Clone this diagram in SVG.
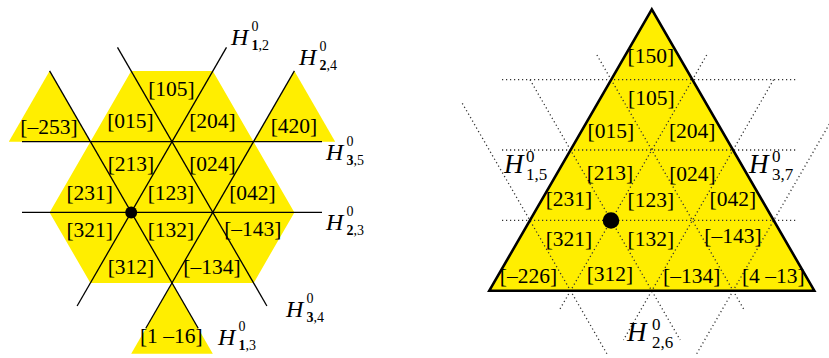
<svg xmlns="http://www.w3.org/2000/svg" width="829" height="358" viewBox="0 0 829 358">
<style>
.fill{fill:#FFEE00;stroke:none}
.ln{stroke:#000;stroke-width:1.3;fill:none}
.dot{stroke:#333;stroke-width:1.3;stroke-dasharray:1.2 2.8;fill:none}
.lbl{font-family:"Liberation Serif",serif;font-size:21.5px;fill:#000;text-anchor:middle}
.hl{font-family:"Liberation Serif",serif;font-style:italic;font-size:24px;fill:#000}
.hs{font-family:"Liberation Serif",serif;font-size:14px;fill:#000}
.hr{font-family:"Liberation Serif",serif;font-style:italic;font-size:27px;fill:#000}
.hrs{font-family:"Liberation Serif",serif;font-size:17px;fill:#000}
</style>
<!-- LEFT DIAGRAM -->
<g id="left-regions">
<polygon class="fill" points="131.2,70.9 212.8,70.9 253.6,141.7 294.4,212.4 253.6,283.1 90.4,283.1 49.6,212.4 90.4,141.7"/>
<polygon class="fill" points="49.6,70.9 8.8,141.7 90.4,141.7"/>
<polygon class="fill" points="294.4,70.9 253.6,141.7 335.2,141.7"/>
<polygon class="fill" points="172,283.1 131.2,353.8 212.8,353.8"/>
</g>
<g id="left-connectors">
<line class="ln" x1="22" y1="141.7" x2="322" y2="141.7"/>
<line class="ln" x1="22" y1="212.4" x2="322" y2="212.4"/>
<line class="ln" x1="226.5" y1="47.3" x2="77.1" y2="306"/>
<line class="ln" x1="117.5" y1="47.3" x2="266.9" y2="306"/>
<line class="ln" x1="294.4" y1="70.9" x2="145.8" y2="328.3"/>
<line class="ln" x1="49.6" y1="70.9" x2="198.2" y2="328.3"/>
</g>
<g id="left-labels">
<text class="lbl" x="171.5" y="95.7">[105]</text>
<text class="lbl" x="130.5" y="128">[015]</text>
<text class="lbl" x="212.5" y="128">[204]</text>
<text class="lbl" x="49" y="134">[–253]</text>
<text class="lbl" x="294" y="133">[420]</text>
<text class="lbl" x="131" y="171">[213]</text>
<text class="lbl" x="212.5" y="171">[024]</text>
<text class="lbl" x="89.7" y="200">[231]</text>
<text class="lbl" x="171" y="200">[123]</text>
<text class="lbl" x="252.5" y="200">[042]</text>
<text class="lbl" x="89.7" y="237">[321]</text>
<text class="lbl" x="171" y="237">[132]</text>
<text class="lbl" x="252.8" y="236">[–143]</text>
<text class="lbl" x="131" y="274">[312]</text>
<text class="lbl" x="212" y="274">[–134]</text>
<text class="lbl" x="171.3" y="343">[1 –16]</text>
</g>
<g id="left-H">
<g id="H12"><text class="hl" x="231" y="45">H</text><text class="hs" x="251.5" y="31">0</text><text class="hs" x="251.5" y="50"><tspan font-weight="bold">1</tspan>,2</text></g>
<g id="H24"><text class="hl" x="299" y="65">H</text><text class="hs" x="319.5" y="51">0</text><text class="hs" x="319.5" y="70"><tspan font-weight="bold">2</tspan>,4</text></g>
<g id="H35"><text class="hl" x="326" y="160">H</text><text class="hs" x="346.5" y="146">0</text><text class="hs" x="346.5" y="165"><tspan font-weight="bold">3</tspan>,5</text></g>
<g id="H23"><text class="hl" x="326" y="230">H</text><text class="hs" x="346.5" y="216">0</text><text class="hs" x="346.5" y="235"><tspan font-weight="bold">2</tspan>,3</text></g>
<g id="H34"><text class="hl" x="286" y="316.7">H</text><text class="hs" x="306.5" y="302.7">0</text><text class="hs" x="306.5" y="321.7"><tspan font-weight="bold">3</tspan>,4</text></g>
<g id="H13"><text class="hl" x="218" y="345">H</text><text class="hs" x="238.5" y="331">0</text><text class="hs" x="238.5" y="350"><tspan font-weight="bold">1</tspan>,3</text></g>
</g>
<circle id="left-dot" cx="131.2" cy="212.4" r="6" fill="#000"/>
<!-- RIGHT DIAGRAM -->
<g id="right-region">
<polygon class="fill" points="651.8,9.3 489.3,290.7 814.3,290.7"/>
</g>
<g id="right-connectors">
<line class="dot" x1="502" y1="79.65" x2="797" y2="79.65"/>
<line class="dot" x1="502" y1="150" x2="797" y2="150"/>
<line class="dot" x1="502" y1="220.35" x2="797" y2="220.35"/>
<line class="dot" x1="596.9" y1="55" x2="744.2" y2="310"/>
<line class="dot" x1="530" y1="79.7" x2="680.2" y2="340"/>
<line class="dot" x1="462.3" y1="103.3" x2="608.2" y2="356"/>
<line class="dot" x1="706.7" y1="55" x2="559.4" y2="310"/>
<line class="dot" x1="773.6" y1="79.7" x2="623.4" y2="340"/>
<line class="dot" x1="841.3" y1="103.3" x2="695.4" y2="356"/>
</g>
<polygon id="right-outline" points="651.8,9.3 489.3,290.7 814.3,290.7" fill="none" stroke="#000" stroke-width="2.6" stroke-linejoin="miter"/>
<g id="right-labels">
<text class="lbl" x="650.8" y="63.3">[150]</text>
<text class="lbl" x="651.3" y="105">[105]</text>
<text class="lbl" x="610.8" y="138.3">[015]</text>
<text class="lbl" x="692.2" y="138.3">[204]</text>
<text class="lbl" x="610" y="180">[213]</text>
<text class="lbl" x="692.5" y="180.5">[024]</text>
<text class="lbl" x="569" y="205.7">[231]</text>
<text class="lbl" x="650.8" y="207">[123]</text>
<text class="lbl" x="732.8" y="205.7">[042]</text>
<text class="lbl" x="569" y="245.7">[321]</text>
<text class="lbl" x="650.8" y="246">[132]</text>
<text class="lbl" x="733" y="242.7">[–143]</text>
<text class="lbl" x="528.5" y="283.3">[–226]</text>
<text class="lbl" x="610" y="280.7">[312]</text>
<text class="lbl" x="691.7" y="283.3">[–134]</text>
<text class="lbl" x="773.3" y="283.3">[4 –13]</text>
</g>
<g id="right-H">
<g id="H15"><text class="hr" x="504" y="173">H</text><text class="hrs" x="526" y="162">0</text><text class="hrs" x="526" y="180">1,5</text></g>
<g id="H37"><text class="hr" x="749" y="172.7">H</text><text class="hrs" x="772" y="162">0</text><text class="hrs" x="772" y="180">3,7</text></g>
<g id="H26"><text class="hr" x="627" y="340.7">H</text><text class="hrs" x="652" y="329.5">0</text><text class="hrs" x="652" y="347.5">2,6</text></g>
</g>
<circle id="right-dot" cx="611" cy="220.5" r="8.3" fill="#000"/>
</svg>
